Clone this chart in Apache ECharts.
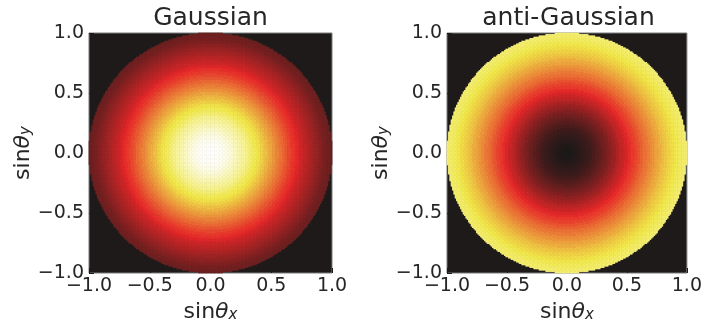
<!DOCTYPE html>
<html>
<head>
<meta charset="utf-8">
<style>
  html, body { margin: 0; padding: 0; background: #ffffff; }
  #chart { width: 705px; height: 328px; }
</style>
<script src="https://cdn.jsdelivr.net/npm/echarts@6/dist/echarts.min.js"></script>
</head>
<body>
<div id="chart"></div>
<script>
// Radial intensity profiles, sampled at r = 0, 0.025, 0.05, ... 1.0 (41 samples)
const gaussianLevels = [
  1.00, 1.00, 0.99, 0.99, 0.98, 0.97, 0.96, 0.94, 0.92, 0.90,
  0.88, 0.86, 0.84, 0.81, 0.78, 0.75, 0.73, 0.70, 0.67, 0.64,
  0.61, 0.58, 0.55, 0.52, 0.49, 0.46, 0.43, 0.40, 0.38, 0.35,
  0.32, 0.30, 0.28, 0.26, 0.24, 0.22, 0.20, 0.18, 0.16, 0.15,
  0.14
];
const antiGaussianLevels = [
  0.00, 0.00, 0.00, 0.01, 0.02, 0.03, 0.04, 0.05, 0.06, 0.08,
  0.10, 0.12, 0.14, 0.16, 0.18, 0.21, 0.23, 0.26, 0.29, 0.31,
  0.34, 0.37, 0.40, 0.42, 0.45, 0.48, 0.51, 0.53, 0.56, 0.58,
  0.61, 0.63, 0.66, 0.68, 0.70, 0.72, 0.74, 0.76, 0.78, 0.79,
  0.81
];
const levelStep = 0.025;
const panelTitles = ['Gaussian', 'anti-Gaussian'];
const tickValues = [-1.0, -0.5, 0.0, 0.5, 1.0];
const tickLabels = ['\u22121.0', '\u22120.5', '0.0', '0.5', '1.0'];

// pixel grid of the aperture image
const CELLS = 180;
const cellIndex = Array.from({ length: CELLS }, (_, i) => i);

function apertureCells(levels) {
  const out = [];
  for (let i = 0; i < CELLS; i++) {
    const x = -1 + (i + 0.5) * 2 / CELLS;
    for (let j = 0; j < CELLS; j++) {
      const y = -1 + (j + 0.5) * 2 / CELLS;
      const r = Math.sqrt(x * x + y * y);
      if (r > 1) continue;
      out.push([i, j, levels[Math.round(r / levelStep)]]);
    }
  }
  return out;
}

// 'hot' style colour ramp
const hotAnchors = [[0, [30, 26, 26]], [0.365, [232, 40, 42]], [0.746, [242, 234, 74]], [1, [255, 255, 255]]];
function hotColor(t) {
  for (let k = 1; k < hotAnchors.length; k++) {
    const [t1, c1] = hotAnchors[k];
    const [t0, c0] = hotAnchors[k - 1];
    if (t <= t1) {
      const f = (t - t0) / (t1 - t0);
      const c = c0.map((v, m) => Math.round(v + (c1[m] - v) * f));
      return 'rgb(' + c.join(',') + ')';
    }
  }
  return '#ffffff';
}
const hotRamp = Array.from({ length: 41 }, (_, k) => hotColor(k / 40));

const FONT = 'DejaVu Sans';
const TEXT = '#262626';
const plots = [{ left: 89 }, { left: 447 }];
const SIZE = 243, TOP = 33;

const grids = plots.map(p => ({
  left: p.left, top: TOP, width: SIZE, height: SIZE,
  show: true, backgroundColor: '#1e1a1a', borderColor: '#7a7a7a', borderWidth: 1
}));

function tickFmt(v) {
  const k = tickValues.findIndex(t => Math.abs(t - v) < 1e-9);
  return k >= 0 ? tickLabels[k] : '';
}

const nameRich = {
  t: { fontFamily: FONT, fontStyle: 'italic', fontSize: 22, color: TEXT },
  s: { fontFamily: FONT, fontStyle: 'italic', fontSize: 15, color: TEXT, verticalAlign: 'bottom', lineHeight: 12 }
};

const xAxes = [], yAxes = [], series = [];
plots.forEach((p, g) => {
  xAxes.push({ type: 'category', gridIndex: g, data: cellIndex, show: false });
  xAxes.push({
    type: 'value', gridIndex: g, min: -1, max: 1, interval: 0.5, position: 'bottom',
    axisLine: { show: false }, splitLine: { show: false },
    axisTick: { show: true, inside: true, length: 5, lineStyle: { color: '#1e1a1a' } },
    axisLabel: { formatter: tickFmt, fontFamily: FONT, fontSize: 19, color: TEXT, margin: 4 },
    name: '{n|sin}{t|\u03b8}{s|x}', nameLocation: 'middle', nameGap: 28,
    nameTextStyle: { fontFamily: FONT, fontSize: 22, color: TEXT, rich: Object.assign({ n: { fontFamily: FONT, fontSize: 22, color: TEXT } }, nameRich) }
  });
  yAxes.push({ type: 'category', gridIndex: g, data: cellIndex, show: false });
  yAxes.push({
    type: 'value', gridIndex: g, min: -1, max: 1, interval: 0.5, position: 'left',
    axisLine: { show: false }, splitLine: { show: false },
    axisTick: { show: true, inside: true, length: 5, lineStyle: { color: '#1e1a1a' } },
    axisLabel: { formatter: tickFmt, fontFamily: FONT, fontSize: 19, color: TEXT, margin: 5 },
    name: '{n|sin}{t|\u03b8}{s|y}', nameLocation: 'middle', nameGap: 55, nameRotate: 90,
    nameTextStyle: { fontFamily: FONT, fontSize: 22, color: TEXT, rich: Object.assign({ n: { fontFamily: FONT, fontSize: 22, color: TEXT } }, nameRich) }
  });
  series.push({
    type: 'heatmap', xAxisIndex: 2 * g, yAxisIndex: 2 * g,
    data: apertureCells(g === 0 ? gaussianLevels : antiGaussianLevels),
    progressive: 0, emphasis: { disabled: true }, silent: true
  });
});

const chart = echarts.init(document.getElementById('chart'), null, { renderer: 'canvas' });
chart.setOption({
  animation: false,
  backgroundColor: '#ffffff',
  grid: grids,
  xAxis: xAxes,
  yAxis: yAxes,
  visualMap: { show: false, type: 'continuous', min: 0, max: 1, seriesIndex: [0, 1], inRange: { color: hotRamp } },
  series: series,
  graphic: plots.map((p, g) => ({
    type: 'text', x: p.left + SIZE / 2, y: 18,
    style: { text: panelTitles[g], font: '25px "DejaVu Sans"', fill: TEXT, align: 'center', verticalAlign: 'middle' }
  }))
});
</script>
</body>
</html>
